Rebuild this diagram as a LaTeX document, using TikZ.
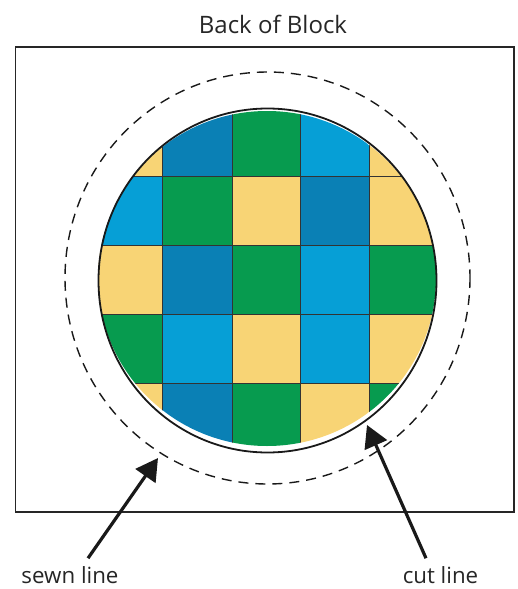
\documentclass[tikz,border=0pt]{standalone}
\usepackage{fontspec}
\setmainfont{Open Sans}
\usepackage{tikz}
\usetikzlibrary{arrows.meta}
\definecolor{patchyellow}{HTML}{F8D475}
\definecolor{patchdark}{HTML}{0A80B5}
\definecolor{patchlight}{HTML}{069FD6}
\definecolor{patchgreen}{HTML}{079B4F}

\begin{document}
\begin{tikzpicture}[
    x=1pt, y=-1pt,
    label/.style={inner sep=0pt, font=\fontsize{22.3}{26}\selectfont, text=black!85},
    frame/.style={draw=black!85, line width=1.4pt},
    cutline/.style={draw=black!90, line width=1.8pt},
    sewnline/.style={draw=black!90, line width=1.4pt, dash pattern=on 10pt off 7pt},
    seam/.style={draw=black!80, line width=0.8pt},
    line/.style={draw=black!90, line width=3.2pt, -{Triangle[length=22pt, width=24pt]}}
]
\useasboundingbox (0,0) rectangle (517,589);

% Frame
\draw [frame] (15.5,47) rectangle (514,512);

% Patches
\begin{scope}
\clip (267,278.5) ellipse [x radius=169, y radius=167.5];
% row 1
\fill [patchyellow] (90,100) rectangle (162,176);
\fill [patchdark] (162,100) rectangle (232,176);
\fill [patchgreen] (232,100) rectangle (300,176);
\fill [patchlight] (300,100) rectangle (369,176);
\fill [patchyellow] (369,100) rectangle (445,176);
% row 2
\fill [patchlight] (90,176) rectangle (162,245);
\fill [patchgreen] (162,176) rectangle (232,245);
\fill [patchyellow] (232,176) rectangle (300,245);
\fill [patchdark] (300,176) rectangle (369,245);
\fill [patchyellow] (369,176) rectangle (445,245);
% row 3
\fill [patchyellow] (90,245) rectangle (162,314);
\fill [patchdark] (162,245) rectangle (232,314);
\fill [patchgreen] (232,245) rectangle (300,314);
\fill [patchlight] (300,245) rectangle (369,314);
\fill [patchgreen] (369,245) rectangle (445,314);
% row 4
\fill [patchgreen] (90,314) rectangle (162,383);
\fill [patchlight] (162,314) rectangle (232,383);
\fill [patchyellow] (232,314) rectangle (300,383);
\fill [patchlight] (300,314) rectangle (369,383);
\fill [patchyellow] (369,314) rectangle (445,383);
% row 5
\fill [patchyellow] (90,383) rectangle (162,460);
\fill [patchdark] (162,383) rectangle (232,460);
\fill [patchgreen] (232,383) rectangle (300,460);
\fill [patchyellow] (300,383) rectangle (369,460);
\fill [patchgreen] (369,383) rectangle (445,460);
% seams
\draw [seam] (162,100) -- (162,460);
\draw [seam] (232,100) -- (232,460);
\draw [seam] (300,100) -- (300,460);
\draw [seam] (369,100) -- (369,460);
\draw [seam] (90,176) -- (445,176);
\draw [seam] (90,245) -- (445,245);
\draw [seam] (90,314) -- (445,314);
\draw [seam] (90,383) -- (445,383);
\end{scope}

% Circles
\draw [cutline] (267.5,280.5) ellipse [x radius=169, y radius=172];
\draw [sewnline] (267.5,278) ellipse [x radius=202.5, y radius=206];

% Labels
\node [label, font=\fontsize{24}{28}\selectfont] (title) at (273,24) {Back of Block};
\node [label] (sewn) at (70,575) {sewn line};
\node [label] (cut) at (440.5,575) {cut line};

% Arrows
\coordinate (sewnend) at (158,458);
\coordinate (cutend) at (367,425);
\path [line] ([shift={(18,-8)}]sewn.north) -- (sewnend);
\path [line] ([shift={(-14.5,-8)}]cut.north) -- (cutend);
\end{tikzpicture}
\end{document}
